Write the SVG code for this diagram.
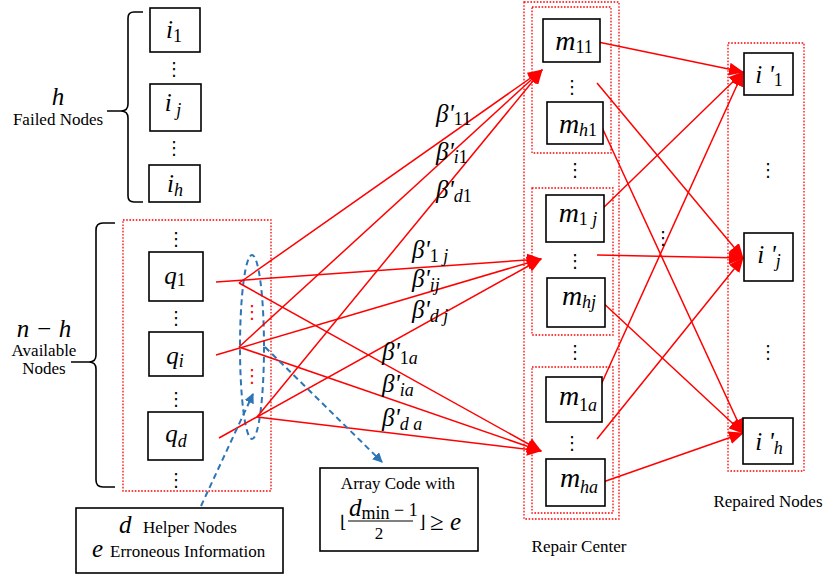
<svg xmlns="http://www.w3.org/2000/svg" width="823" height="581" viewBox="0 0 823 581">
<style>
.box{fill:#fff;stroke:#000;stroke-width:1.6}
.dot{fill:none;stroke:#f00;stroke-width:1.3;stroke-dasharray:1.6,1.6}
.t{font-family:"Liberation Serif",serif;font-size:17px;fill:#000}
.mi{font-family:"Liberation Serif",serif;font-style:italic;font-size:25px;fill:#000}
.mb{font-family:"Liberation Serif",serif;font-style:italic;font-size:25px;fill:#000}
.mm{font-family:"Liberation Serif",serif;font-style:italic;font-size:28px;fill:#000}
.sd{font-style:normal;font-size:18px}
.sl{font-style:italic;font-size:18px}
.el{font-family:"DejaVu Sans",sans-serif;font-size:18px;fill:#000;text-anchor:middle}
.r{stroke:#f00;stroke-width:1.5;fill:none}
.b{stroke:#2E75B6;stroke-width:2;fill:none;stroke-dasharray:6,4}
.br{fill:none;stroke:#000;stroke-width:1.6}
</style>
<defs>
<marker id="ar" markerWidth="15" markerHeight="13" refX="14" refY="6.5" orient="auto" markerUnits="userSpaceOnUse"><path d="M0,0 L15,6.5 L0,13 z" fill="#f00"/></marker>
<marker id="ab" markerWidth="10" markerHeight="10" refX="9" refY="5" orient="auto" markerUnits="userSpaceOnUse"><path d="M0,0 L10,5 L0,10 z" fill="#2E75B6"/></marker>
</defs>

<!-- containers -->
<g id="containers">
<rect class="dot" x="123" y="220" width="148" height="271"/>
<rect class="dot" x="524" y="2" width="95" height="517"/>
<rect class="dot" x="532" y="7" width="79" height="146"/>
<rect class="dot" x="532" y="188" width="81" height="147"/>
<rect class="dot" x="532" y="367" width="81" height="146"/>
<rect class="dot" x="728" y="43" width="76" height="428"/>
<ellipse cx="252" cy="347" rx="12" ry="92" class="b"/>
</g>

<!-- braces and side labels -->
<g id="failed-label">
<path class="br" d="M143,12 L134,12 Q128,12 128,18 L128,104 Q128,111 121,111 L107,111 M121,111 Q128,111 128,118 L128,196 Q128,202 134,202 L143,202"/>
<text class="mi" x="58" y="105" text-anchor="middle" font-size="21">h</text>
<text class="t" x="58" y="125" text-anchor="middle" font-size="16">Failed Nodes</text>
</g>
<g id="available-label">
<path class="br" d="M115,223 L103,223 Q96,223 96,230 L96,355 Q96,362 89,362 L71,362 M89,362 Q96,362 96,369 L96,480 Q96,487 103,487 L115,487"/>
<text class="mi" x="44" y="337" text-anchor="middle" font-size="21">n − h</text>
<text class="t" x="44" y="356" text-anchor="middle">Available</text>
<text class="t" x="44" y="374" text-anchor="middle">Nodes</text>
</g>

<!-- connectors -->
<g id="connectors">
<line class="r" x1="216" y1="282" x2="541" y2="259" marker-end="url(#ar)"/>
<line class="r" x1="239" y1="283" x2="542" y2="70" marker-end="url(#ar)"/>
<line class="r" x1="239" y1="283" x2="541" y2="451" marker-end="url(#ar)"/>
<line class="r" x1="216" y1="355" x2="541" y2="259" marker-end="url(#ar)"/>
<line class="r" x1="239" y1="347" x2="542" y2="70" marker-end="url(#ar)"/>
<line class="r" x1="239" y1="347" x2="541" y2="451" marker-end="url(#ar)"/>
<line class="r" x1="219" y1="438" x2="541" y2="259" marker-end="url(#ar)"/>
<line class="r" x1="257" y1="417" x2="542" y2="70" marker-end="url(#ar)"/>
<line class="r" x1="257" y1="417" x2="541" y2="451" marker-end="url(#ar)"/>

<line class="r" x1="598" y1="42" x2="743" y2="72" marker-end="url(#ar)"/>
<line class="r" x1="597" y1="83" x2="743" y2="258" marker-end="url(#ar)"/>
<line class="r" x1="600" y1="123" x2="743" y2="433" marker-end="url(#ar)"/>
<line class="r" x1="598" y1="213" x2="743" y2="72" marker-end="url(#ar)"/>
<line class="r" x1="597" y1="255" x2="743" y2="258" marker-end="url(#ar)"/>
<line class="r" x1="600" y1="300" x2="743" y2="433" marker-end="url(#ar)"/>
<line class="r" x1="595" y1="398" x2="743" y2="72" marker-end="url(#ar)"/>
<line class="r" x1="597" y1="439" x2="743" y2="258" marker-end="url(#ar)"/>
<line class="r" x1="603" y1="482" x2="743" y2="433" marker-end="url(#ar)"/>

<line class="b" x1="201" y1="506" x2="253" y2="394" marker-end="url(#ab)"/>
<line class="b" x1="265" y1="347" x2="382" y2="462" marker-end="url(#ab)"/>
</g>

<!-- beta labels -->
<g id="weights">
<text class="mb" x="436" y="122">β'<tspan class="sd" dy="3">11</tspan></text>
<text class="mb" x="436" y="160">β'<tspan class="sl" dy="3">i</tspan><tspan class="sd">1</tspan></text>
<text class="mb" x="436" y="198">β'<tspan class="sl" dy="4">d</tspan><tspan class="sd">1</tspan></text>
<text class="mb" x="412" y="258">β'<tspan class="sd" dy="4">1</tspan><tspan class="sl"> j</tspan></text>
<text class="mb" x="412" y="287">β'<tspan class="sl" dy="4">ij</tspan></text>
<text class="mb" x="412" y="318">β'<tspan class="sl" dy="4">d j</tspan></text>
<text class="mb" x="382" y="360">β'<tspan class="sd" dy="4">1</tspan><tspan class="sl">a</tspan></text>
<text class="mb" x="382" y="392">β'<tspan class="sl" dy="4">ia</tspan></text>
<text class="mb" x="382" y="426">β'<tspan class="sl" dy="4">d a</tspan></text>
</g>

<!-- failed nodes -->
<g id="i1"><rect class="box" x="150" y="8" width="50" height="44"/><text class="mi" x="174" y="38" text-anchor="middle">i<tspan class="sd" dy="4">1</tspan></text></g>
<g id="ij"><rect class="box" x="150" y="84" width="51" height="47"/><text class="mi" x="173" y="111" text-anchor="middle">i<tspan class="sl" dy="5"> j</tspan></text></g>
<g id="ih"><rect class="box" x="149" y="165" width="51" height="37"/><text class="mi" x="175" y="192" text-anchor="middle">i<tspan class="sl" dy="4">h</tspan></text></g>
<text class="el" x="174" y="75">⋮</text>
<text class="el" x="174" y="154">⋮</text>

<!-- available nodes -->
<g id="q1"><rect class="box" x="149" y="252" width="54" height="49"/><text class="mi" x="175" y="284" text-anchor="middle">q<tspan class="sd" dy="2">1</tspan></text></g>
<g id="qi"><rect class="box" x="149" y="332" width="54" height="44"/><text class="mi" x="175" y="364" text-anchor="middle">q<tspan class="sl" dy="3">i</tspan></text></g>
<g id="qd"><rect class="box" x="148" y="412" width="55" height="48"/><text class="mi" x="176" y="442" text-anchor="middle">q<tspan class="sl" dy="5">d</tspan></text></g>
<text class="el" x="176" y="245">⋮</text>
<text class="el" x="176" y="324">⋮</text>
<text class="el" x="176" y="405">⋮</text>
<text class="el" x="176" y="486">⋮</text>
<text class="el" x="252" y="318" style="fill:#f00" font-size="16">⋮</text>
<text class="el" x="252" y="382" style="fill:#f00" font-size="16">⋮</text>

<!-- repair center -->
<g id="m11"><rect class="box" x="543" y="19" width="57" height="43"/><text class="mm" x="574" y="50" text-anchor="middle">m<tspan class="sd" dy="3">11</tspan></text></g>
<g id="mh1"><rect class="box" x="547" y="102" width="56" height="42"/><text class="mm" x="578" y="133" text-anchor="middle">m<tspan class="sl" dy="3">h</tspan><tspan class="sd">1</tspan></text></g>
<g id="m1j"><rect class="box" x="546" y="195" width="58" height="47"/><text class="mm" x="578" y="222" text-anchor="middle">m<tspan class="sd" dy="3">1</tspan><tspan class="sl"> j</tspan></text></g>
<g id="mhj"><rect class="box" x="547" y="278" width="58" height="49"/><text class="mm" x="579" y="305" text-anchor="middle">m<tspan class="sl" dy="3">hj</tspan></text></g>
<g id="m1a"><rect class="box" x="546" y="377" width="56" height="45"/><text class="mm" x="578" y="405" text-anchor="middle">m<tspan class="sd" dy="6">1</tspan><tspan class="sl">a</tspan></text></g>
<g id="mha"><rect class="box" x="546" y="459" width="59" height="47"/><text class="mm" x="579" y="487" text-anchor="middle">m<tspan class="sl" dy="6">ha</tspan></text></g>
<text class="el" x="572" y="93">⋮</text>
<text class="el" x="575" y="176">⋮</text>
<text class="el" x="575" y="267">⋮</text>
<text class="el" x="575" y="358">⋮</text>
<text class="el" x="572" y="449">⋮</text>
<text class="el" x="663" y="244" font-size="12">⋮</text>
<text class="t" x="579" y="552" text-anchor="middle">Repair Center</text>

<!-- repaired nodes -->
<g id="ip1"><rect class="box" x="744" y="53" width="49" height="42"/><text class="mi" x="769" y="83" text-anchor="middle">i '<tspan class="sd" dy="3">1</tspan></text></g>
<g id="ipj"><rect class="box" x="744" y="233" width="49" height="48"/><text class="mi" x="769" y="263" text-anchor="middle">i '<tspan class="sl" dy="4">j</tspan></text></g>
<g id="iph"><rect class="box" x="743" y="418" width="50" height="46"/><text class="mi" x="769" y="450" text-anchor="middle">i '<tspan class="sl" dy="4">h</tspan></text></g>
<text class="el" x="768" y="176">⋮</text>
<text class="el" x="768" y="358">⋮</text>
<text class="t" x="768" y="507" text-anchor="middle">Repaired Nodes</text>

<!-- note boxes -->
<g id="helper-note">
<rect class="box" x="76" y="508" width="207" height="65"/>
<text class="t" y="533"><tspan class="mi" x="119" font-size="21">d</tspan><tspan x="143">Helper Nodes</tspan></text>
<text class="t" y="557"><tspan class="mi" x="92" font-size="21">e</tspan><tspan x="110">Erroneous Information</tspan></text>
</g>
<g id="array-note">
<rect class="box" x="320" y="468" width="158" height="83"/>
<text class="t" x="398" y="489" text-anchor="middle">Array Code with</text>
<text x="340" y="528" style="font-family:'DejaVu Serif',serif;font-size:17px">⌊</text>
<text class="mi" x="349" y="516" font-size="20">d<tspan class="sd" font-size="12" dy="3">min</tspan><tspan style="font-style:normal" font-size="18" dy="-3"> − 1</tspan></text>
<line x1="348" y1="521" x2="413" y2="521" stroke="#000" stroke-width="1"/>
<text class="t" x="379" y="539" text-anchor="middle" font-size="20">2</text>
<text x="419" y="528" style="font-family:'DejaVu Serif',serif;font-size:17px">⌋</text>
<text class="mi" x="430" y="530" font-size="21"><tspan style="font-style:normal">≥</tspan> e</text>
</g>
</svg>
